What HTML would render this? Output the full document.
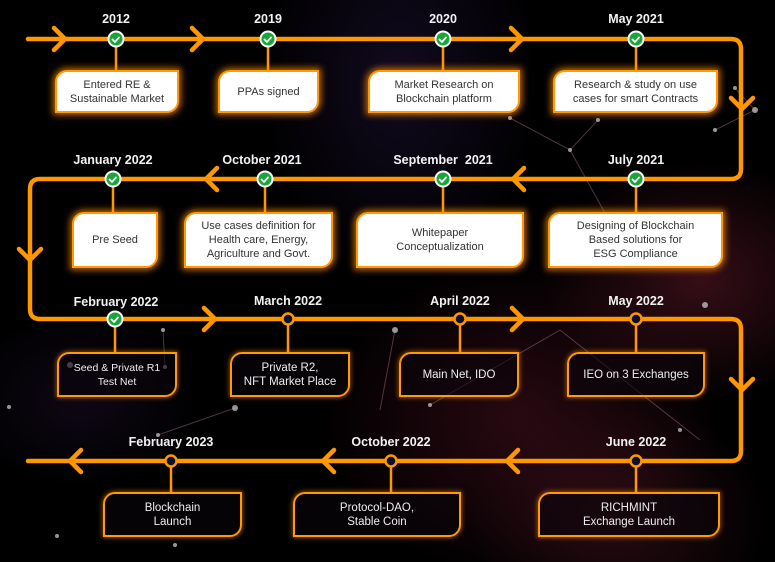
<!DOCTYPE html>
<html><head><meta charset="utf-8"><style>
*{margin:0;padding:0;box-sizing:border-box}
body{width:775px;height:562px;overflow:hidden;background:#000;font-family:"Liberation Sans",sans-serif;position:relative}
#bg{position:absolute;left:0;top:0;width:775px;height:562px;
background:
radial-gradient(ellipse 160px 120px at 700px 280px,rgba(120,30,50,.45),transparent),
radial-gradient(ellipse 200px 160px at 520px 420px,rgba(90,20,40,.45),transparent),
radial-gradient(ellipse 140px 200px at 400px 80px,rgba(50,30,90,.35),transparent),
radial-gradient(ellipse 120px 90px at 80px 400px,rgba(40,20,60,.35),transparent),
radial-gradient(ellipse 150px 120px at 620px 520px,rgba(110,30,50,.35),transparent),#000}
svg{position:absolute;left:0;top:0}
.lbl{position:absolute;color:#f2f2f2;font-weight:bold;font-size:12.5px;transform:translateX(-50%);white-space:nowrap}
.box{position:absolute;border:2.5px solid #ff9a00;border-radius:12px 0 12px 0;display:flex;align-items:center;justify-content:center;text-align:center;font-size:11px;line-height:14px}
.w{background:#fff;color:#333;box-shadow:0 0 7px 2px rgba(255,140,0,.75)}
.d{background:rgba(10,5,10,.6);color:#eee;box-shadow:0 0 5px 1px rgba(255,140,0,.5);font-size:11.5px}
</style></head><body>
<div id="bg"></div>
<svg width="775" height="562" viewBox="0 0 775 562">
<g fill="#bbb" opacity=".8">
<circle cx="570" cy="150" r="2"/><circle cx="598" cy="120" r="2"/><circle cx="510" cy="118" r="2"/><circle cx="755" cy="110" r="3"/><circle cx="735" cy="88" r="2"/><circle cx="715" cy="130" r="2"/><circle cx="163" cy="330" r="2"/><circle cx="70" cy="365" r="3"/><circle cx="165" cy="367" r="2"/><circle cx="235" cy="408" r="3"/><circle cx="158" cy="435" r="2"/><circle cx="57" cy="536" r="2"/><circle cx="175" cy="545" r="2"/><circle cx="430" cy="405" r="2"/><circle cx="395" cy="330" r="3"/><circle cx="680" cy="430" r="2"/><circle cx="705" cy="305" r="3"/><circle cx="9" cy="407" r="2"/>
</g>
<g stroke="rgba(220,150,180,.35)" stroke-width="1" fill="none">
<path d="M510 118 L570 150 L598 120 M570 150 L620 240 M715 130 L755 110 L735 88 M163 330 L165 367 M158 435 L235 408 M430 405 L560 330 M560 330 L700 440 M395 330 L380 410"/>
</g>
<g fill="none" stroke="#ff9800" stroke-width="4.5" stroke-linecap="round" stroke-linejoin="round">
<path d="M28 39 H731 Q741 39 741 49 V169 Q741 179 731 179 H40 Q30 179 30 189 V309 Q30 319 40 319 H731 Q741 319 741 329 V451 Q741 461 731 461 H28"/>
<path d="M54 28 L65 39 L54 50 M192 28 L203 39 L192 50 M511 28 L522 39 L511 50"/>
<path d="M731 98 L742 109 L753 98 M19 249 L30 260 L41 249"/>
<path d="M217 168 L206 179 L217 190 M524 168 L513 179 L524 190"/>
<path d="M204 308 L215 319 L204 330 M512 308 L523 319 L512 330"/>
<path d="M731 379 L742 390 L753 379"/>
<path d="M81 450 L70 461 L81 472 M334 450 L323 461 L334 472 M518 450 L507 461 L518 472"/>
</g>
<g stroke="#ff9800" stroke-width="2.5">
<path d="M116 39V72 M268 39V72 M443 39V72 M636 39V72 M113 179V214 M265 179V214 M443 179V214 M636 179V214 M115 319V354 M288 319V354 M460 319V354 M636 319V354 M171 461V494 M391 461V494 M636 461V494"/>
</g>
<g stroke="#fff" stroke-width="2" fill="#1aa53a">
<circle cx="116" cy="39" r="7.5"/><circle cx="268" cy="39" r="7.5"/><circle cx="443" cy="39" r="7.5"/><circle cx="636" cy="39" r="7.5"/>
<circle cx="113" cy="179" r="7.5"/><circle cx="265" cy="179" r="7.5"/><circle cx="443" cy="179" r="7.5"/><circle cx="636" cy="179" r="7.5"/>
<circle cx="115" cy="319" r="7.5"/>
</g>
<g stroke="#fff" stroke-width="1.8" fill="none" stroke-linecap="round">
<path d="M112.5 39.5l2.5 2.5 4-4.5 M264.5 39.5l2.5 2.5 4-4.5 M439.5 39.5l2.5 2.5 4-4.5 M632.5 39.5l2.5 2.5 4-4.5 M109.5 179.5l2.5 2.5 4-4.5 M261.5 179.5l2.5 2.5 4-4.5 M439.5 179.5l2.5 2.5 4-4.5 M632.5 179.5l2.5 2.5 4-4.5 M111.5 319.5l2.5 2.5 4-4.5"/>
</g>
<g stroke="#ff9800" stroke-width="2.5" fill="#0a1030">
<circle cx="288" cy="319" r="5.5"/><circle cx="460" cy="319" r="5.5"/><circle cx="636" cy="319" r="5.5"/>
<circle cx="171" cy="461" r="5.5"/><circle cx="391" cy="461" r="5.5"/><circle cx="636" cy="461" r="5.5"/>
</g>
</svg>

<div class="lbl" style="left:116px;top:12px">2012</div>
<div class="lbl" style="left:268px;top:12px">2019</div>
<div class="lbl" style="left:443px;top:12px">2020</div>
<div class="lbl" style="left:636px;top:12px">May 2021</div>
<div class="lbl" style="left:113px;top:153px">January 2022</div>
<div class="lbl" style="left:262px;top:153px">October 2021</div>
<div class="lbl" style="left:443px;top:153px">September&nbsp; 2021</div>
<div class="lbl" style="left:636px;top:153px">July 2021</div>
<div class="lbl" style="left:116px;top:295px">February 2022</div>
<div class="lbl" style="left:288px;top:294px">March 2022</div>
<div class="lbl" style="left:460px;top:294px">April 2022</div>
<div class="lbl" style="left:636px;top:294px">May 2022</div>
<div class="lbl" style="left:171px;top:435px">February 2023</div>
<div class="lbl" style="left:391px;top:435px">October 2022</div>
<div class="lbl" style="left:636px;top:435px">June 2022</div>

<div class="box w" style="left:55px;top:70px;width:124px;height:43px">Entered RE &amp;<br>Sustainable Market</div>
<div class="box w" style="left:218px;top:70px;width:101px;height:43px">PPAs signed</div>
<div class="box w" style="left:368px;top:70px;width:152px;height:43px">Market Research on<br>Blockchain platform</div>
<div class="box w" style="left:553px;top:70px;width:165px;height:43px">Research &amp; study on use<br>cases for smart Contracts</div>
<div class="box w" style="left:72px;top:212px;width:86px;height:56px">Pre Seed</div>
<div class="box w" style="left:184px;top:212px;width:149px;height:56px">Use cases definition for<br>Health care, Energy,<br>Agriculture and Govt.</div>
<div class="box w" style="left:356px;top:212px;width:168px;height:56px">Whitepaper<br>Conceptualization</div>
<div class="box w" style="left:548px;top:212px;width:175px;height:56px">Designing of Blockchain<br>Based solutions for<br>ESG Compliance</div>
<div class="box d" style="left:57px;top:352px;width:120px;height:45px;font-size:10.5px">Seed &amp; Private R1<br>Test Net</div>
<div class="box d" style="left:230px;top:352px;width:120px;height:45px">Private R2,<br>NFT Market Place</div>
<div class="box d" style="left:399px;top:352px;width:120px;height:45px">Main Net, IDO</div>
<div class="box d" style="left:567px;top:352px;width:138px;height:45px">IEO on 3 Exchanges</div>
<div class="box d" style="left:103px;top:492px;width:139px;height:45px">Blockchain<br>Launch</div>
<div class="box d" style="left:293px;top:492px;width:168px;height:45px">Protocol-DAO,<br>Stable Coin</div>
<div class="box d" style="left:538px;top:492px;width:182px;height:45px">RICHMINT<br>Exchange Launch</div>
</body></html>
